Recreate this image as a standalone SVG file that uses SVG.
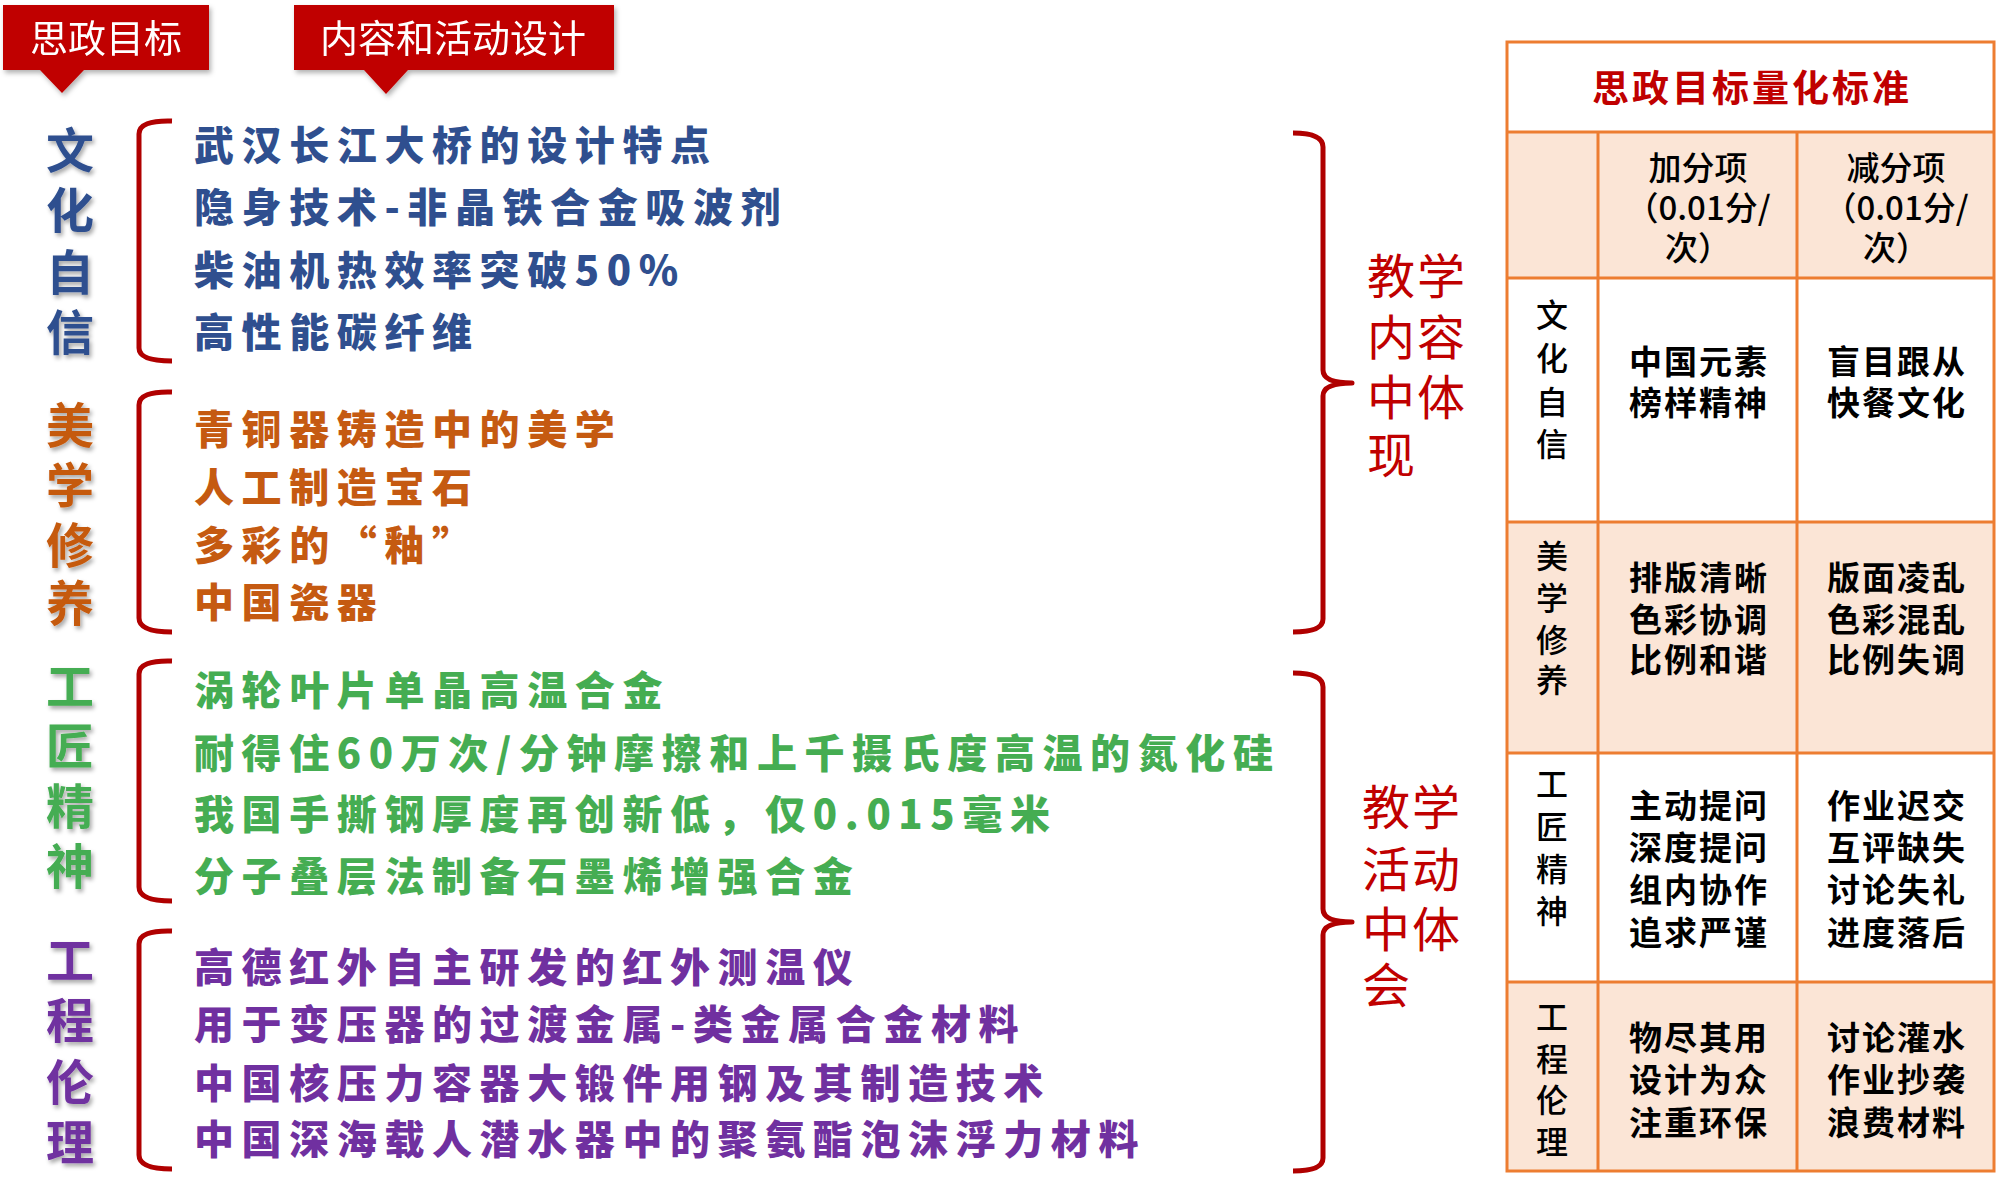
<svg xmlns="http://www.w3.org/2000/svg" width="2000" height="1195" viewBox="0 0 2000 1195">
<defs>
<filter id="sh" x="-20%" y="-20%" width="140%" height="140%">
<feDropShadow dx="2" dy="3" stdDeviation="2" flood-color="#000" flood-opacity="0.35"/>
</filter>
<filter id="bsh" x="-10%" y="-10%" width="120%" height="130%">
<feDropShadow dx="2" dy="3" stdDeviation="2.5" flood-color="#000" flood-opacity="0.3"/>
</filter>
<style>
text{font-family:"Noto Sans CJK SC","Noto Sans",sans-serif;}
.ban{fill:#c00000;}
.bt{fill:#fff;font-size:38px;font-weight:400;text-anchor:middle;}
.lab{font-size:48px;font-weight:700;text-anchor:middle;}
.it{font-size:40px;font-weight:900;letter-spacing:7.6px;}
.blue{fill:#2f4f8f;}
.orange{fill:#c55a11;}
.green{fill:#45ad52;}
.purple{fill:#7030a0;}
.br{fill:none;stroke:#b00000;stroke-width:5;stroke-linecap:butt;stroke-linejoin:round;}
.rt{fill:#c00000;font-size:48px;font-weight:400;letter-spacing:2px;}
.grid{fill:none;stroke:#ed7d31;stroke-width:3;}
.pe{fill:#fbe5d6;}
.wh{fill:#ffffff;}
.tt{fill:#c00000;font-size:37px;font-weight:700;text-anchor:middle;letter-spacing:3px;}
.th{fill:#000;font-size:33px;font-weight:500;text-anchor:middle;}
.tl{fill:#000;font-size:32px;font-weight:500;text-anchor:middle;}
.tc{fill:#000;font-size:33px;font-weight:700;text-anchor:middle;letter-spacing:2px;}
</style>
</defs>
<rect width="2000" height="1195" fill="#fff"/>

<g id="banner-goal" filter="url(#bsh)">
<path class="ban" d="M3,5 H209 V70 H84 L62,93 L40,70 H3 Z"/>
<text class="bt" x="106" y="52">思政目标</text>
</g>
<g id="banner-design" filter="url(#bsh)">
<path class="ban" d="M294,5 H614 V70 H408 L386,94 L364,70 H294 Z"/>
<text class="bt" x="453" y="52">内容和活动设计</text>
</g>

<g id="label-culture" class="lab blue" filter="url(#sh)">
<text x="70" y="168">文</text><text x="70" y="228">化</text><text x="70" y="290">自</text><text x="70" y="350">信</text>
</g>
<g id="label-aesthetics" class="lab orange" filter="url(#sh)">
<text x="70" y="443">美</text><text x="70" y="503">学</text><text x="70" y="563">修</text><text x="70" y="621">养</text>
</g>
<g id="label-craft" class="lab green" filter="url(#sh)">
<text x="70" y="704">工</text><text x="70" y="764">匠</text><text x="70" y="824">精</text><text x="70" y="884">神</text>
</g>
<g id="label-ethics" class="lab purple" filter="url(#sh)">
<text x="70" y="978">工</text><text x="70" y="1038">程</text><text x="70" y="1100">伦</text><text x="70" y="1160">理</text>
</g>

<g id="items-culture" class="it blue">
<text x="194" y="160">武汉长江大桥的设计特点</text>
<text x="194" y="222">隐身技术-非晶铁合金吸波剂</text>
<text x="194" y="285">柴油机热效率突破50%</text>
<text x="194" y="347">高性能碳纤维</text>
</g>
<g id="items-aesthetics" class="it orange">
<text x="194" y="444">青铜器铸造中的美学</text>
<text x="194" y="502">人工制造宝石</text>
<text x="194" y="560">多彩的“釉”</text>
<text x="194" y="617">中国瓷器</text>
</g>
<g id="items-craft" class="it green">
<text x="194" y="705">涡轮叶片单晶高温合金</text>
<text x="194" y="768">耐得住60万次/分钟摩擦和上千摄氏度高温的氮化硅</text>
<text x="194" y="829">我国手撕钢厚度再创新低，仅0.015毫米</text>
<text x="194" y="891">分子叠层法制备石墨烯增强合金</text>
</g>
<g id="items-ethics" class="it purple">
<text x="194" y="982">高德红外自主研发的红外测温仪</text>
<text x="194" y="1039">用于变压器的过渡金属-类金属合金材料</text>
<text x="194" y="1098">中国核压力容器大锻件用钢及其制造技术</text>
<text x="194" y="1154">中国深海载人潜水器中的聚氨酯泡沫浮力材料</text>
</g>

<g id="connectors">
<path class="br" d="M172,121 Q139,120 139,134 V348 Q139,361 172,361"/>
<path class="br" d="M172,392 Q139,391 139,405 V618 Q139,632 172,632"/>
<path class="br" d="M172,661 Q139,660 139,674 V887 Q139,901 172,901"/>
<path class="br" d="M172,931 Q139,930 139,944 V1155 Q139,1169 172,1169"/>
<path class="br" d="M1293,133 Q1323,133 1323,147 V370 Q1323,383 1352,383 Q1323,383 1323,396 V619 Q1323,632 1293,632"/>
<path class="br" d="M1293,673 Q1323,673 1323,687 V909 Q1323,922 1352,922 Q1323,922 1323,935 V1158 Q1323,1171 1293,1171"/>
</g>

<g id="note-content">
<text class="rt" x="1367" y="294">教学</text>
<text class="rt" x="1367" y="355">内容</text>
<text class="rt" x="1367" y="415">中体</text>
<text class="rt" x="1367" y="473">现</text>
</g>
<g id="note-activity">
<text class="rt" x="1362" y="825">教学</text>
<text class="rt" x="1362" y="887">活动</text>
<text class="rt" x="1362" y="947">中体</text>
<text class="rt" x="1362" y="1003">会</text>
</g>

<g id="table">
<rect class="wh" x="1507" y="42" width="487" height="90"/>
<rect class="pe" x="1507" y="132" width="487" height="146"/>
<rect class="wh" x="1507" y="278" width="487" height="244"/>
<rect class="pe" x="1507" y="522" width="487" height="231"/>
<rect class="wh" x="1507" y="753" width="487" height="229"/>
<rect class="pe" x="1507" y="982" width="487" height="189"/>
<rect class="grid" x="1507" y="42" width="487" height="1129"/>
<line class="grid" x1="1507" y1="132" x2="1994" y2="132" stroke-width="5"/>
<line class="grid" x1="1507" y1="278" x2="1994" y2="278"/>
<line class="grid" x1="1507" y1="522" x2="1994" y2="522"/>
<line class="grid" x1="1507" y1="753" x2="1994" y2="753"/>
<line class="grid" x1="1507" y1="982" x2="1994" y2="982"/>
<line class="grid" x1="1598" y1="132" x2="1598" y2="1171"/>
<line class="grid" x1="1797" y1="132" x2="1797" y2="1171"/>
</g>
<g id="table-title"><text class="tt" x="1752" y="102">思政目标量化标准</text></g>
<g id="col-plus" class="th">
<text x="1698" y="180">加分项</text>
<text x="1698" y="220">（0.01分/</text>
<text x="1698" y="260">次）</text>
</g>
<g id="col-minus" class="th">
<text x="1896" y="180">减分项</text>
<text x="1896" y="220">（0.01分/</text>
<text x="1896" y="260">次）</text>
</g>
<g id="row-culture">
<g class="tl"><text x="1552" y="327">文</text><text x="1552" y="370">化</text><text x="1552" y="414">自</text><text x="1552" y="456">信</text></g>
<g class="tc"><text x="1699" y="374">中国元素</text><text x="1699" y="415">榜样精神</text>
<text x="1897" y="374">盲目跟从</text><text x="1897" y="415">快餐文化</text></g>
</g>
<g id="row-aesthetics">
<g class="tl"><text x="1552" y="568">美</text><text x="1552" y="610">学</text><text x="1552" y="652">修</text><text x="1552" y="692">养</text></g>
<g class="tc"><text x="1699" y="590">排版清晰</text><text x="1699" y="632">色彩协调</text><text x="1699" y="672">比例和谐</text>
<text x="1897" y="590">版面凌乱</text><text x="1897" y="632">色彩混乱</text><text x="1897" y="672">比例失调</text></g>
</g>
<g id="row-craft">
<g class="tl"><text x="1552" y="796">工</text><text x="1552" y="839">匠</text><text x="1552" y="881">精</text><text x="1552" y="923">神</text></g>
<g class="tc"><text x="1699" y="818">主动提问</text><text x="1699" y="860">深度提问</text><text x="1699" y="902">组内协作</text><text x="1699" y="945">追求严谨</text>
<text x="1897" y="818">作业迟交</text><text x="1897" y="860">互评缺失</text><text x="1897" y="902">讨论失礼</text><text x="1897" y="945">进度落后</text></g>
</g>
<g id="row-ethics">
<g class="tl"><text x="1552" y="1029">工</text><text x="1552" y="1071">程</text><text x="1552" y="1112">伦</text><text x="1552" y="1154">理</text></g>
<g class="tc"><text x="1699" y="1050">物尽其用</text><text x="1699" y="1092">设计为众</text><text x="1699" y="1135">注重环保</text>
<text x="1897" y="1050">讨论灌水</text><text x="1897" y="1092">作业抄袭</text><text x="1897" y="1135">浪费材料</text></g>
</g>
</svg>
